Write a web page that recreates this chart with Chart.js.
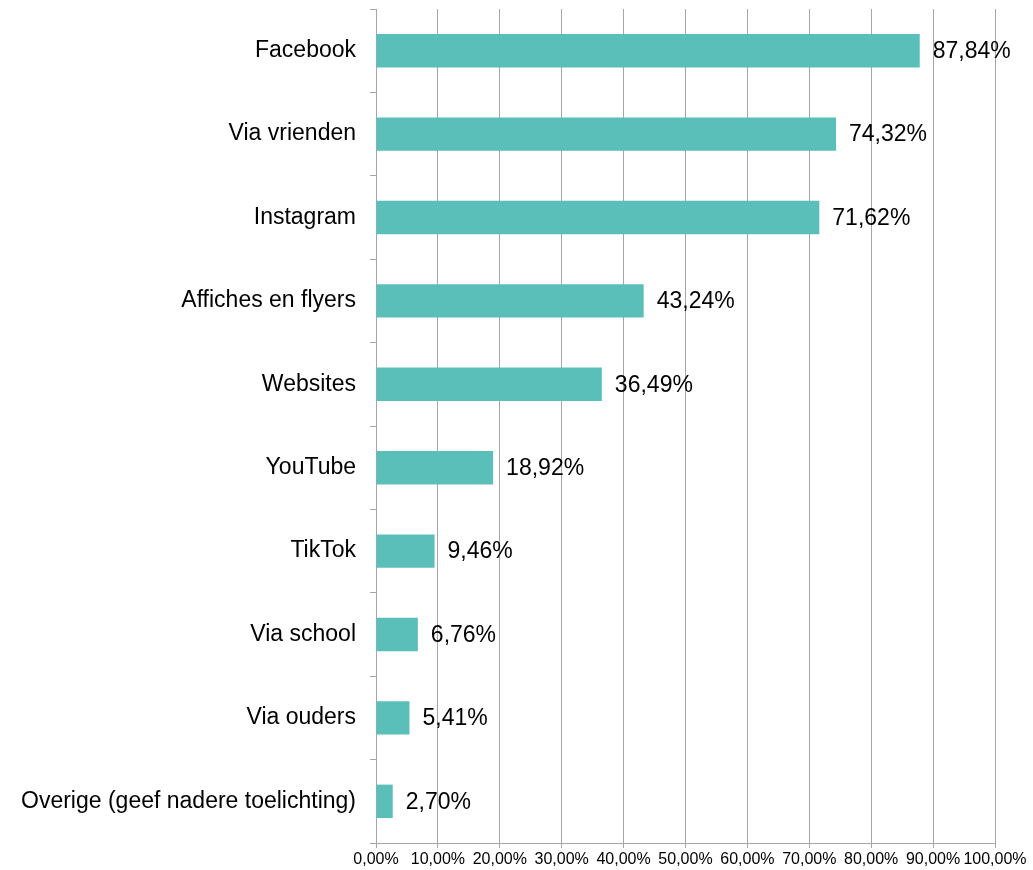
<!DOCTYPE html>
<html>
<head>
<meta charset="utf-8">
<script src="https://cdn.jsdelivr.net/npm/chart.js@4"></script>
<style>
html,body{margin:0;padding:0;background:#fff;}
#wrap{width:1033px;height:870px;position:relative;}
</style>
</head>
<body>
<div id="wrap"><canvas id="c" width="1033" height="870"></canvas></div>
<script>
const categories = ["Facebook","Via vrienden","Instagram","Affiches en flyers","Websites","YouTube","TikTok","Via school","Via ouders","Overige (geef nadere toelichting)"];
const values = [87.84, 74.32, 71.62, 43.24, 36.49, 18.92, 9.46, 6.76, 5.41, 2.70];
const valueLabels = ["87,84%","74,32%","71,62%","43,24%","36,49%","18,92%","9,46%","6,76%","5,41%","2,70%"];
const xTickLabels = ["0,00%","10,00%","20,00%","30,00%","40,00%","50,00%","60,00%","70,00%","80,00%","90,00%","100,00%"];

const FONT = "'Liberation Sans', Arial, sans-serif";
const GRID = '#A6A6A6';

const labelPlugin = {
  id: 'valueLabels',
  afterDatasetsDraw(chart) {
    const ctx = chart.ctx;
    const meta = chart.getDatasetMeta(0);
    ctx.save();
    ctx.font = '23px ' + FONT;
    ctx.fillStyle = '#000';
    ctx.textAlign = 'left';
    ctx.textBaseline = 'middle';
    meta.data.forEach((bar, i) => {
      ctx.fillText(valueLabels[i], bar.x + 13, bar.y + 1);
    });
    ctx.restore();
  }
};

new Chart(document.getElementById('c'), {
  type: 'bar',
  data: {
    labels: categories,
    datasets: [{
      data: values,
      backgroundColor: '#5ABEB9',
      borderWidth: 0,
      categoryPercentage: 1,
      barPercentage: 0.4
    }]
  },
  options: {
    indexAxis: 'y',
    responsive: false,
    animation: false,
    layout: { padding: { top: 9, right: 38, left: 0, bottom: 0 } },
    plugins: { legend: { display: false }, tooltip: { enabled: false } },
    scales: {
      x: {
        min: 0, max: 100,
        afterFit(s) { s.height = 27; s.paddingLeft = 0; s.paddingRight = 0; },
        ticks: {
          stepSize: 10,
          autoSkip: false,
          maxRotation: 0,
          padding: 2,
          color: '#000',
          font: { family: FONT, size: 16 },
          callback: (v, i) => xTickLabels[i]
        },
        grid: { color: GRID, lineWidth: 1, tickLength: 5, drawOnChartArea: true },
        border: { color: GRID, width: 1 }
      },
      y: {
        afterFit(s) { s.width = 376; s.paddingTop = 0; s.paddingBottom = 0; },
        ticks: {
          color: '#000',
          padding: 14,
          font: { family: FONT, size: 23 }
        },
        grid: { display: true, drawOnChartArea: false, offset: true, color: GRID, tickLength: 6 },
        border: { color: GRID, width: 1 }
      }
    }
  },
  plugins: [labelPlugin]
});
</script>
</body>
</html>
